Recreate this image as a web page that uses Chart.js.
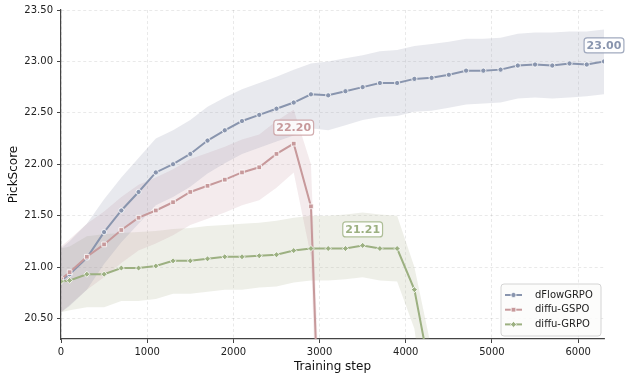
<!DOCTYPE html>
<html>
<head>
<meta charset="utf-8">
<script src="https://cdn.jsdelivr.net/npm/chart.js@4.4.1/dist/chart.umd.min.js"></script>
<style>
    html, body { margin: 0; padding: 0; background: #fff; }
</style>
</head>
<body>
<canvas id="chart-pickscore" width="630" height="375"></canvas>
<script>
//Dados
const passosFlow = [0, 100, 300, 500, 700, 900, 1100, 1300, 1500, 1700, 1900, 2100, 2300, 2500, 2700, 2900,
    3100, 3300, 3500, 3700, 3900, 4100, 4300, 4500, 4700, 4900, 5100, 5300, 5500, 5700, 5900, 6100, 6300];
const mediaFlow = [20.87, 20.93, 21.09, 21.34, 21.55, 21.73, 21.92, 22.00, 22.10, 22.23, 22.33, 22.42, 22.48, 22.54, 22.60, 22.68,
    22.67, 22.71, 22.75, 22.79, 22.79, 22.83, 22.84, 22.87, 22.91, 22.91, 22.92, 22.96, 22.97, 22.96, 22.98, 22.97, 23.00];
const superiorFlow = [21.18, 21.25, 21.42, 21.66, 21.87, 22.06, 22.25, 22.33, 22.43, 22.56, 22.65, 22.73, 22.79, 22.85, 22.92, 22.98,
    23.00, 23.03, 23.06, 23.10, 23.11, 23.15, 23.17, 23.19, 23.22, 23.22, 23.23, 23.27, 23.28, 23.28, 23.29, 23.29, 23.31];
const inferiorFlow = [20.56, 20.62, 20.78, 21.03, 21.24, 21.42, 21.60, 21.68, 21.78, 21.91, 22.01, 22.10, 22.16, 22.22, 22.28, 22.35,
    22.33, 22.38, 22.43, 22.46, 22.47, 22.51, 22.52, 22.55, 22.58, 22.59, 22.60, 22.64, 22.65, 22.64, 22.65, 22.66, 22.68];

const passosGspo = [0, 100, 300, 500, 700, 900, 1100, 1300, 1500, 1700, 1900, 2100, 2300, 2500, 2700, 2900, 3100];
const mediaGspo = [20.88, 20.95, 21.10, 21.22, 21.36, 21.48, 21.55, 21.63, 21.73, 21.79, 21.85, 21.92, 21.97, 22.10, 22.20, 21.59, 16.90];
const superiorGspo = [21.20, 21.27, 21.42, 21.54, 21.68, 21.80, 21.87, 21.95, 22.05, 22.11, 22.17, 22.24, 22.29, 22.42, 22.53, 22.00, 17.50];
const inferiorGspo = [20.56, 20.63, 20.78, 20.90, 21.04, 21.16, 21.23, 21.31, 21.41, 21.47, 21.53, 21.60, 21.65, 21.77, 21.92, 21.10, 16.30];

const passosGrpo = [0, 100, 300, 500, 700, 900, 1100, 1300, 1500, 1700, 1900, 2100, 2300, 2500, 2700, 2900,
    3100, 3300, 3500, 3700, 3900, 4100, 4300];
const mediaGrpo = [20.86, 20.87, 20.93, 20.93, 20.99, 20.99, 21.01, 21.06, 21.06, 21.08, 21.10, 21.10, 21.11, 21.12, 21.16, 21.18,
    21.18, 21.18, 21.21, 21.18, 21.18, 20.78, 19.90];
const superiorGrpo = [21.18, 21.20, 21.30, 21.32, 21.33, 21.34, 21.35, 21.37, 21.38, 21.40, 21.41, 21.42, 21.43, 21.45, 21.48, 21.50,
    21.50, 21.51, 21.53, 21.51, 21.50, 21.00, 20.20];
const inferiorGrpo = [20.56, 20.58, 20.61, 20.61, 20.67, 20.67, 20.69, 20.74, 20.74, 20.76, 20.78, 20.78, 20.80, 20.81, 20.85, 20.87,
    20.87, 20.88, 20.90, 20.87, 20.86, 20.40, 19.20];

const ticksX = [0, 1000, 2000, 3000, 4000, 5000, 6000];
const ticksY = [20.5, 21.0, 21.5, 22.0, 22.5, 23.0, 23.5];
const nomes = ['dFlowGRPO', 'diffu-GSPO', 'diffu-GRPO'];
const cores = ['#8995ae', '#c7999b', '#9cb081'];
const coresFaixa = ['rgba(140,145,170,0.2)', 'rgba(195,145,155,0.18)', 'rgba(170,175,140,0.2)'];

function pares(passos, valores) {
    return passos.map(function (p, i) {
        return {x: p, y: valores[i]};
    });
}

function rgba(hex, a) {
    let r = parseInt(hex.substr(1, 2), 16);
    let g = parseInt(hex.substr(3, 2), 16);
    let b = parseInt(hex.substr(5, 2), 16);
    return 'rgba(' + r + ',' + g + ',' + b + ',' + a + ')';
}

function linha(i, passos, valores, estilo, raio, ordem) {
    return {
        label: nomes[i],
        data: pares(passos, valores),
        borderColor: cores[i],
        backgroundColor: cores[i],
        borderWidth: 2,
        pointStyle: estilo,
        pointRadius: raio,
        pointBackgroundColor: cores[i],
        pointBorderColor: '#ffffff',
        pointBorderWidth: 0.8,
        fill: false,
        order: ordem,
        etiqueta: true
    };
}

function faixa(i, passos, valores, alvo) {
    return {
        label: '',
        data: pares(passos, valores),
        borderColor: 'transparent',
        borderWidth: 0,
        pointRadius: 0,
        fill: alvo,
        backgroundColor: coresFaixa[i],
        order: 10
    };
}

//Rotulos de maximo
const pluginRotulos = {
    id: 'rotulos',
    afterDatasetsDraw(chart) {
        let ctx = chart.ctx;
        chart.data.datasets.forEach(function (ds, i) {
            if (!ds.etiqueta) return;
            let valores = ds.data.map(function (p) { return p.y; });
            let idx = valores.indexOf(Math.max.apply(null, valores));
            let ponto = chart.getDatasetMeta(i).data[idx];
            let texto = valores[idx].toFixed(2);
            ctx.save();
            ctx.font = 'bold 11px "DejaVu Sans"';
            let w = ctx.measureText(texto).width + 5;
            let h = 15;
            let cx = ponto.x, cy = ponto.y - 16;
            ctx.beginPath();
            ctx.roundRect(cx - w / 2, cy - h / 2, w, h, 3);
            ctx.fillStyle = 'rgba(255,255,255,0.85)';
            ctx.fill();
            ctx.strokeStyle = rgba(ds.borderColor, 0.8);
            ctx.lineWidth = 1.2;
            ctx.stroke();
            ctx.fillStyle = ds.borderColor;
            ctx.textAlign = 'center';
            ctx.textBaseline = 'middle';
            ctx.fillText(texto, cx, cy + 0.5);
            ctx.restore();
        });
    }
};

//Legenda
const pluginLegenda = {
    id: 'legenda',
    afterDraw(chart) {
        let ctx = chart.ctx;
        let area = chart.chartArea;
        let w = 100, h = 52;
        let x0 = area.right - 3 - w, y0 = area.bottom - 3 - h;
        ctx.save();
        ctx.beginPath();
        ctx.roundRect(x0, y0, w, h, 3);
        ctx.fillStyle = 'rgba(252,252,250,0.85)';
        ctx.fill();
        ctx.strokeStyle = '#d4d4d4';
        ctx.lineWidth = 1;
        ctx.stroke();
        let linhas = chart.data.datasets.filter(function (ds) { return ds.etiqueta; });
        linhas.forEach(function (ds, k) {
            let y = y0 + 11 + k * 14.7;
            ctx.strokeStyle = ds.borderColor;
            ctx.lineWidth = 2;
            ctx.beginPath();
            ctx.moveTo(x0 + 4, y);
            ctx.lineTo(x0 + 21, y);
            ctx.stroke();
            ctx.fillStyle = ds.pointBackgroundColor;
            ctx.strokeStyle = '#ffffff';
            ctx.lineWidth = ds.pointBorderWidth;
            Chart.helpers.drawPoint(ctx, {
                pointStyle: ds.pointStyle,
                radius: ds.pointRadius,
                borderWidth: ds.pointBorderWidth,
                rotation: 0
            }, x0 + 12.5, y);
            ctx.fillStyle = '#222';
            ctx.font = '10px "DejaVu Sans"';
            ctx.textAlign = 'left';
            ctx.textBaseline = 'middle';
            ctx.fillText(ds.label, x0 + 34, y);
        });
        ctx.restore();
    }
};

//Grafico
Chart.defaults.font.family = '"DejaVu Sans"';
Chart.defaults.color = '#222';

var ctx = document.getElementById('chart-pickscore').getContext('2d');
var data = {
    datasets: [
        linha(0, passosFlow, mediaFlow, 'circle', 2.6, 3),
        linha(1, passosGspo, mediaGspo, 'rect', 3.3, 2),
        linha(2, passosGrpo, mediaGrpo, 'rectRot', 3.0, 1),
        faixa(0, passosFlow, superiorFlow, '+1'),
        faixa(0, passosFlow, inferiorFlow, false),
        faixa(1, passosGspo, superiorGspo, '+1'),
        faixa(1, passosGspo, inferiorGspo, false),
        faixa(2, passosGrpo, superiorGrpo, '+1'),
        faixa(2, passosGrpo, inferiorGrpo, false)
    ]
};
const config = {
    type: 'line',
    data,
    options: {
        responsive: false,
        animation: false,
        devicePixelRatio: 1,
        layout: {padding: {top: 10, right: 26, bottom: 0, left: 0}},
        plugins: {
            legend: {display: false},
            tooltip: {enabled: false},
            filler: {drawTime: 'beforeDatasetsDraw'}
        },
        scales: {
            x: {
                type: 'linear',
                min: 0,
                max: 6300,
                afterBuildTicks: function (scale) {
                    scale.ticks = ticksX.map(function (v) { return {value: v}; });
                },
                afterFit: function (scale) { scale.height = 36; },
                ticks: {
                    font: {size: 10},
                    color: '#222',
                    padding: 3,
                    maxRotation: 0,
                    callback: function (v) { return String(v); }
                },
                grid: {color: 'rgba(0,0,0,0.11)', lineWidth: 0.8, tickColor: '#444', tickLength: 4, tickWidth: 1},
                border: {color: '#444', width: 1.2, dash: [3, 2.5]},
                title: {display: true, text: 'Training step', font: {size: 12}, color: '#111', padding: {top: 0, bottom: 1}}
            },
            y: {
                type: 'linear',
                min: 20.3,
                max: 23.5,
                afterBuildTicks: function (scale) {
                    scale.ticks = ticksY.map(function (v) { return {value: v}; });
                },
                afterFit: function (scale) { scale.width = 61; },
                ticks: {
                    font: {size: 10},
                    color: '#222',
                    padding: 4,
                    callback: function (v) { return Number(v).toFixed(2); }
                },
                grid: {color: 'rgba(0,0,0,0.11)', lineWidth: 0.8, tickColor: '#444', tickLength: 4, tickWidth: 1},
                border: {color: '#444', width: 1.2, dash: [3, 2.5]},
                title: {display: true, text: 'PickScore', font: {size: 12}, color: '#111', padding: {top: 7, bottom: 0}}
            }
        }
    },
    plugins: [pluginRotulos, pluginLegenda]
};
myChart = new Chart(ctx, config);
</script>
</body>
</html>
